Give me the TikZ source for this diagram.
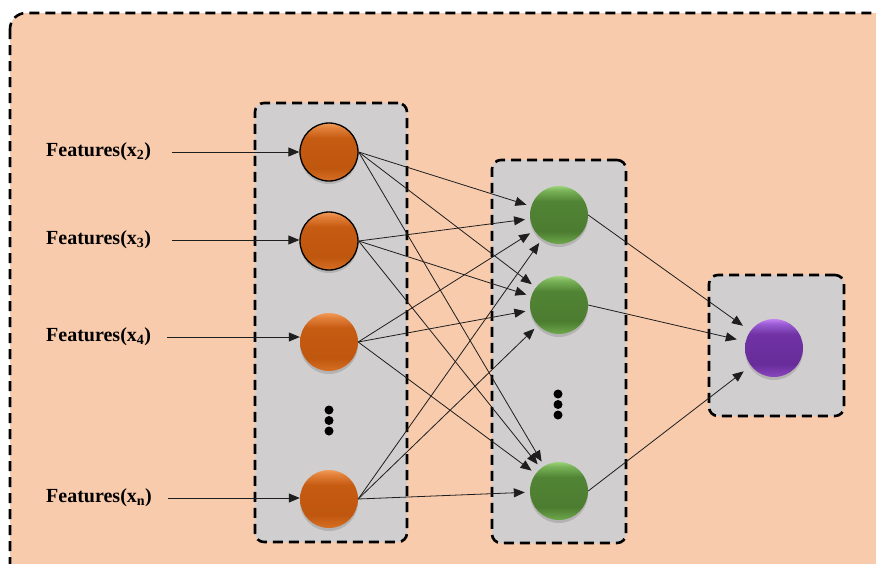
\documentclass[tikz,border=0pt]{standalone}
\usepackage{fontspec}
\setmainfont{Liberation Serif}
\usetikzlibrary{arrows.meta,shadows}
\definecolor{peach}{HTML}{F8CBAD}
\definecolor{boxgray}{HTML}{D0CECE}
\definecolor{lineg}{HTML}{1E1E1E}
\pgfdeclareverticalshading{orsh}{100bp}{color(0bp)=(orange!60!red!80!black); color(25bp)=(orange!60!red!80!black);
  color(25bp)=({rgb,255:red,214;green,112;blue,36}); color(36bp)=({rgb,255:red,192;green,87;blue,15});
  color(62bp)=({rgb,255:red,198;green,91;blue,18}); color(71bp)=({rgb,255:red,226;green,128;blue,58});
  color(75bp)=({rgb,255:red,240;green,156;blue,90}); color(100bp)=({rgb,255:red,240;green,156;blue,90})}
\pgfdeclareverticalshading{grsh}{100bp}{color(0bp)=({rgb,255:red,110;green,168;blue,76});
  color(25bp)=({rgb,255:red,110;green,168;blue,76}); color(36bp)=({rgb,255:red,76;green,124;blue,48});
  color(62bp)=({rgb,255:red,82;green,132;blue,53}); color(71bp)=({rgb,255:red,120;green,178;blue,88});
  color(75bp)=({rgb,255:red,156;green,210;blue,122}); color(100bp)=({rgb,255:red,156;green,210;blue,122})}
\pgfdeclareverticalshading{pusharp}{100bp}{color(0bp)=({rgb,255:red,138;green,70;blue,190});
  color(25bp)=({rgb,255:red,138;green,70;blue,190}); color(36bp)=({rgb,255:red,104;green,44;blue,154});
  color(62bp)=({rgb,255:red,112;green,50;blue,164}); color(71bp)=({rgb,255:red,156;green,94;blue,214});
  color(75bp)=({rgb,255:red,196;green,130;blue,240}); color(100bp)=({rgb,255:red,196;green,130;blue,240})}
\begin{document}
\begin{tikzpicture}[x=1pt,y=-1pt,
  dashbox/.style={draw=black,line width=2.6pt,dash pattern=on 10pt off 6pt,rounded corners=9pt,fill=boxgray},
  ball/.style={circle,minimum size=58pt,inner sep=0pt,drop shadow={shadow xshift=0pt,shadow yshift=-3pt,opacity=0.35}},
  orball/.style={ball,shading=orsh},
  grball/.style={ball,shading=grsh},
  puball/.style={ball,shading=pusharp},
  outl/.style={draw=black,line width=1.3pt},
  lab/.style={anchor=west,inner sep=0pt,font=\fontsize{20}{23}\selectfont\bfseries},
  arr/.style={draw=lineg,line width=0.8pt,-{Triangle[length=11pt,width=9pt]}},
  dotn/.style={circle,fill=black,minimum size=9pt,inner sep=0pt}]
\clip (0,0) rectangle (876,563);
\fill[white] (0,0) rectangle (876,563);
\draw[draw=black,line width=2.6pt,dash pattern=on 10pt off 6pt,rounded corners=16pt,fill=peach] (10,13) rectangle (892,580);
% boxes
\node[dashbox,minimum width=152pt,minimum height=439pt] (b1) at (331,322.5) {};
\node[dashbox,minimum width=134pt,minimum height=383pt] (b2) at (559,351.5) {};
\node[dashbox,minimum width=135pt,minimum height=141pt] (b3) at (776.5,345.5) {};
% input layer
\node[orball,outl] (o1) at (329,152) {};
\node[orball,outl] (o2) at (329,241) {};
\node[orball] (o3) at (329,342) {};
\node[orball] (o4) at (329,499) {};
\node[dotn] (d1) at (329,410) {};
\node[dotn] (d2) at (329,420.5) {};
\node[dotn] (d3) at (329,431) {};
% hidden layer
\node[grball] (g1) at (559,215) {};
\node[grball] (g2) at (559,305) {};
\node[grball] (g3) at (559,491) {};
\node[dotn] (e1) at (558,394) {};
\node[dotn] (e2) at (558,404.5) {};
\node[dotn] (e3) at (558,415) {};
% output
\node[puball] (p) at (774,348) {};
% labels
\node[lab] (l1) at (46,152) {Features(x\textsubscript{2})};
\node[lab] (l2) at (46,240) {Features(x\textsubscript{3})};
\node[lab] (l3) at (46,337) {Features(x\textsubscript{4})};
\node[lab] (l4) at (46,498) {Features(x\textsubscript{n})};
\draw[arr] ([xshift=21pt]l1.east) -- (o1.west);
\draw[arr] ([xshift=21pt]l2.east) -- (o2.west |- l2.east);
\draw[arr] ([xshift=16pt]l3.east) -- (o3.west |- l3.east);
\draw[arr] ([xshift=16pt]l4.east) -- (o4.west |- l4.east);
% connections
\foreach \o in {o1,o2,o3,o4}{
  \foreach \g in {g1,g2,g3}{
    \draw[arr,shorten >=5pt] (\o.east) -- (\g);
  }
}
\foreach \g in {g1,g2,g3}{
  \draw[arr,shorten >=9pt] (\g.east) -- (p);
}
\end{tikzpicture}
\end{document}
